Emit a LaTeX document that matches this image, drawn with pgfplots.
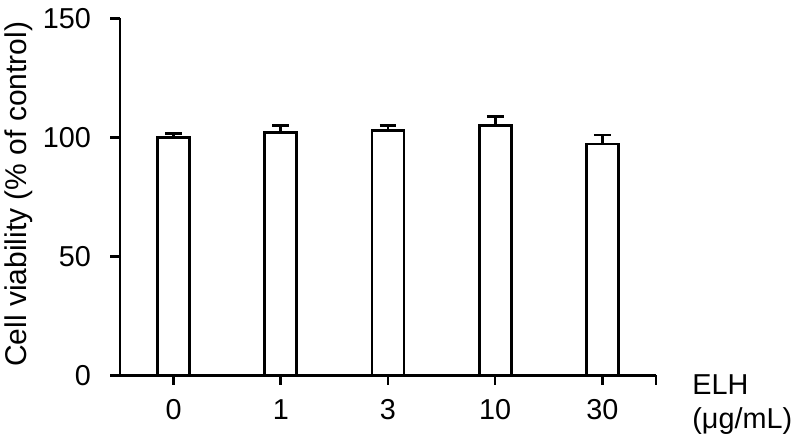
\documentclass[border=0pt]{standalone}
\usepackage{fontspec}
\setmainfont{Liberation Sans}
\usepackage{pgfplots}
\pgfplotsset{compat=1.18}

\begin{document}
\begin{tikzpicture}
    \begin{axis}[
        name=ax,
        at={(0,0)}, anchor=south west,
        scale only axis,
        width=268pt,
        height=178.5pt,
        ybar,
        bar width=16pt,
        xmin=-0.5, xmax=4.5,
        ymin=0, ymax=150,
        xtick={0,1,2,3,4},
        xticklabels={0,1,3,10,30},
        extra x ticks={4.5},
        extra x tick labels={},
        ytick={0,50,100,150},
        axis lines=left,
        axis line style={-, line width=1.3pt, black},
        tick align=outside,
        major tick length=4.8pt,
        tick style={line width=1.3pt, black},
        /pgf/number format/assume math mode=true,
        tick label style={font=\fontsize{14.4}{17}\selectfont, inner sep=0pt},
        xticklabel style={anchor=north, yshift=-7pt},
        yticklabel style={anchor=east, xshift=-9.5pt},
        clip=false,
    ]
    % mean cell viability with SD (upper half only)
    \addplot[
        fill=white, draw=black, line width=1.4pt,
        error bars/.cd,
            y dir=plus, y explicit,
            error bar style={line width=1.4pt, black},
            error mark options={rotate=90, mark size=4.2pt, line width=1.4pt, black},
    ] coordinates {
        (0, 100.0) +- (0, 1.7)
        (1, 102.1) +- (0, 2.9)
        (2, 102.8) +- (0, 2.0)
        (3, 105.1) +- (0, 3.8)
        (4, 97.2)  +- (0, 3.8)
    };
    \end{axis}
    \node[rotate=90, anchor=base, inner sep=0pt, font=\fontsize{15}{18}\selectfont]
        at (-46.5pt, 90.5pt) {Cell viability (\% of control)};
    \node[anchor=base west, inner sep=0pt, font=\fontsize{14.4}{17}\selectfont]
        at (286pt, -9.85pt) {ELH};
    \node[anchor=base west, inner sep=0pt, font=\fontsize{14.4}{17}\selectfont]
        at (286pt, -26.4pt) {(μg/mL)};
    \pgfresetboundingbox
    \path[use as bounding box] (-60pt,-33.85pt) rectangle (340pt,187.65pt);
\end{tikzpicture}
\end{document}
